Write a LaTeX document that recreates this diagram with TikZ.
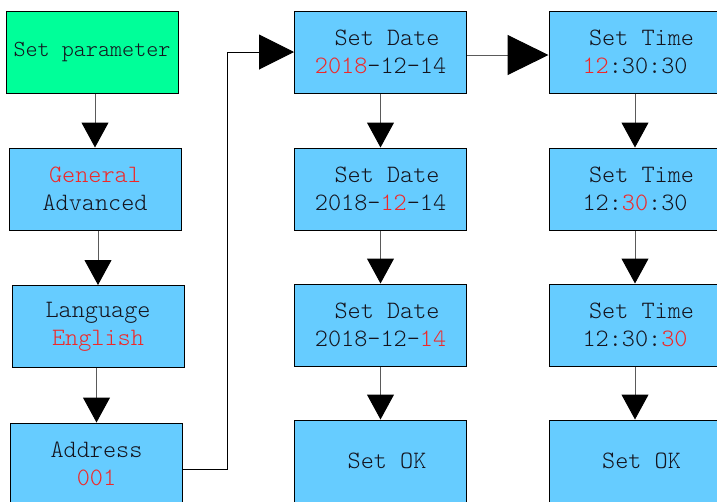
\documentclass[tikz,border=0pt]{standalone}
\usepackage{fontspec}
\setmonofont{Latin Modern Mono Light}
\usepackage{tikz}
\usepackage{xcolor}
\usetikzlibrary{calc,arrows.meta}
\definecolor{menuGreen}{RGB}{0,255,153}
\definecolor{menuBlue}{RGB}{102,204,255}
\definecolor{menuRed}{RGB}{240,40,40}
\definecolor{menuInk}{RGB}{20,20,30}
\definecolor{menuLine}{RGB}{90,90,90}
\newcommand{\Hl}[1]{\textcolor{menuRed}{#1}}
\newcommand{\Lead}{\hspace*{.525em}}
\tikzset{
  menubox/.style={draw=black,fill=menuBlue,line width=1pt,minimum width=172pt,minimum height=82pt,
    inner sep=0pt,align=center,text=menuInk,font=\ttfamily\fontsize{25}{28}\selectfont},
  flow/.style={draw=menuLine,line width=1pt,-{Triangle[width=27pt,length=25pt,color=black]}},
  jump/.style={draw=black,line width=1pt,-{Triangle[width=35pt,length=35pt,color=black]}},
  hop/.style={draw=menuLine,line width=1pt,-{Triangle[width=40pt,length=41pt,color=black]}},
}

\begin{document}
\begin{tikzpicture}[x=1pt,y=-1pt]
\useasboundingbox (0,0) rectangle (717,501);
\clip (0,0) rectangle (717,501);
% left column
\node[menubox,fill=menuGreen,font=\ttfamily\fontsize{23}{28}\selectfont] (sp) at (92,52) {Set parameter};
\node[menubox] (gen) at (95,189) {\Hl{General}\\Advanced};
\node[menubox] (lang) at (98,326.5) {Language\\\Hl{English}};
\node[menubox] (addr) at (96.5,464) {Address\\\Hl{001}};
% date column
\node[menubox] (d1) at (380.5,52) {\Lead Set Date\\\Hl{2018}-12-14};
\node[menubox] (d2) at (380.5,189) {\Lead Set Date\\2018-\Hl{12}-14};
\node[menubox] (d3) at (380.5,325) {\Lead Set Date\\2018-12-\Hl{14}};
\node[menubox] (dok) at (380.5,461) {\Lead Set OK};
% time column
\node[menubox] (t1) at (635,52) {\Lead Set Time\\\Hl{12}:30:30};
\node[menubox] (t2) at (635,189) {\Lead Set Time\\12:\Hl{30}:30};
\node[menubox] (t3) at (635,325) {\Lead Set Time\\12:30:\Hl{30}};
\node[menubox] (tok) at (635,461) {\Lead Set OK};

\draw[flow] (sp.south -| gen.north) -- (gen.north);
\draw[flow] (gen.south -| lang.north) -- (lang.north);
\draw[flow] (lang.south -| addr.north) -- (addr.north);
\coordinate (bend) at (227,52);
\draw[jump] ([yshift=-5pt]addr.east) -| (bend) -- (d1.west);
\draw[hop] ([yshift=-3pt]d1.east) -- ([yshift=-3pt]t1.west);
\draw[flow] (d1.south) -- (d2.north);
\draw[flow] (d2.south) -- (d3.north);
\draw[flow] (d3.south) -- (dok.north);
\draw[flow] (t1.south) -- (t2.north);
\draw[flow] (t2.south) -- (t3.north);
\draw[flow] (t3.south) -- (tok.north);
\end{tikzpicture}
\end{document}
